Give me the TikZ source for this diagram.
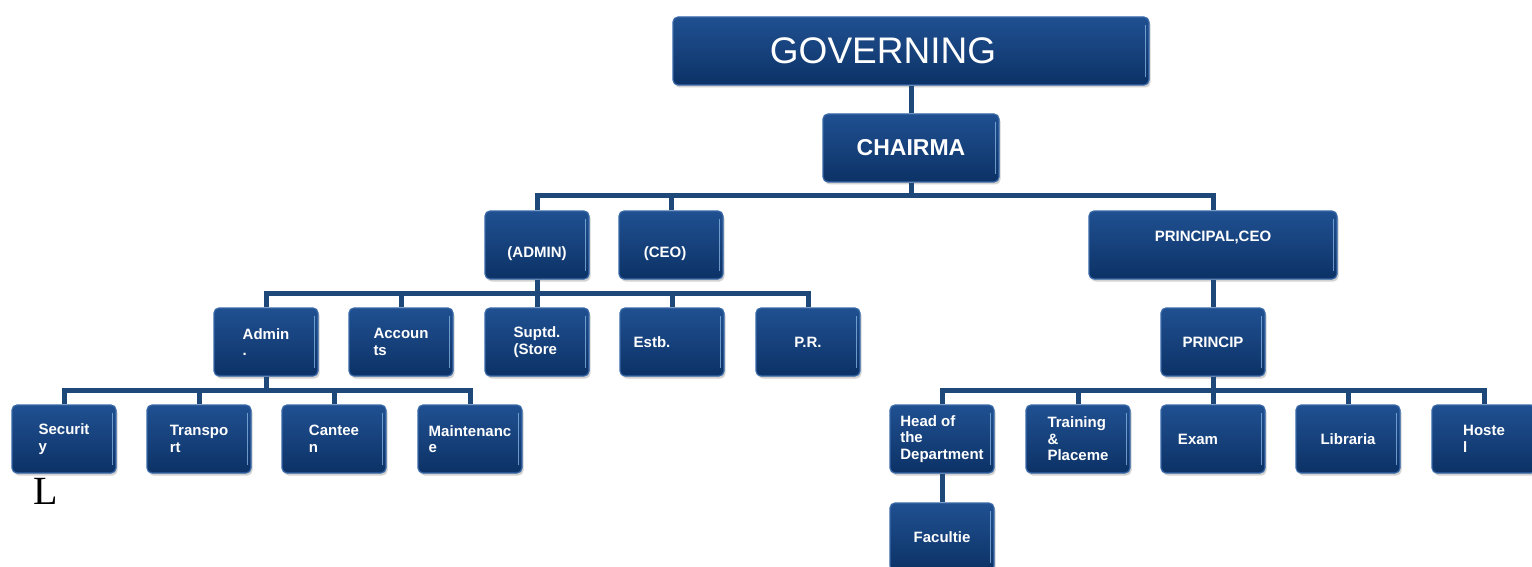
\documentclass[tikz,border=0pt]{standalone}
\usepackage{fontspec}
\setmainfont{Liberation Sans}
\newfontfamily\timesfont{Liberation Serif}
\usetikzlibrary{shadows}

\definecolor{boxtop}{RGB}{32,80,145}
\definecolor{boxbot}{RGB}{12,50,102}
\definecolor{boxrim}{RGB}{56,104,168}
\definecolor{boxlite}{RGB}{140,185,230}
\definecolor{linkcol}{RGB}{30,72,122}

\tikzset{
	orgbox/.style={rectangle,rounded corners=5pt,draw=boxrim,line width=1.2pt,
		top color=boxtop,bottom color=boxbot,text=white,
		minimum width=104pt,minimum height=68pt,align=left,inner sep=2pt,
		font=\fontsize{15}{16.5}\selectfont\bfseries,
		drop shadow={shadow xshift=1.5pt,shadow yshift=-2.5pt,opacity=0.35},
		path picture={\draw[boxlite,line width=1pt,opacity=0.75]
			([xshift=-3.5pt,yshift=-8pt]path picture bounding box.north east)
			--([xshift=-3.5pt,yshift=8pt]path picture bounding box.south east);}},
	link/.style={draw=linkcol,line width=5pt}
}

\begin{document}
\begin{tikzpicture}[x=1pt,y=-1pt]
			\fill[white] (0,0) rectangle (1532,567);
			\useasboundingbox (0,0) rectangle (1532,567);
			% top of the chart
			\node[orgbox,minimum width=476pt,font=\fontsize{37}{40}\selectfont](gov) at (911,51)
			{GOVERNING\hspace*{56pt}};
			\node[orgbox,minimum width=176pt,font=\fontsize{23}{26}\selectfont\bfseries](chair) at (911,148)
			{CHAIRMA};
			\node[orgbox,align=center](admin) at (537,245) {\strut\\(ADMIN)};
			\node[orgbox,align=center](ceo) at (671,245) {\strut\\(CEO)\hspace*{12pt}};
			\node[orgbox,minimum width=248pt,align=center](prin) at (1213,245)
			{PRINCIPAL,CEO\\~};
			% admin side
			\node[orgbox](adm) at (266,342) {Admin\\.};
			\node[orgbox](acc) at (401,342) {Accoun\\ts};
			\node[orgbox](supt) at (537,342) {Suptd.\\(Store};
			\node[orgbox](estb) at (672,342) {Estb.\hspace*{40pt}};
			\node[orgbox](pr) at (808,342) {P.R.};
			\node[orgbox](sec) at (64,439) {Securit\\y};
			\node[orgbox](trans) at (199,439) {Transpo\\rt};
			\node[orgbox](cant) at (334,439) {Cantee\\n};
			\node[orgbox](maint) at (470,439) {Maintenanc\\e};
			% principal side
			\node[orgbox](princ) at (1213,342) {PRINCIP};
			\node[orgbox](hod) at (942,439) {Head of\\the\\Department};
			\node[orgbox](train) at (1078,439) {Training\\\&\\Placeme};
			\node[orgbox](exam) at (1213,439) {Exam\hspace*{30pt}};
			\node[orgbox](lib) at (1348,439) {Libraria};
			\node[orgbox](host) at (1484,439) {Hoste\\l};
			\node[orgbox](fac) at (942,537) {Facultie};
			\node[font=\timesfont\fontsize{40}{40}\selectfont,text=black](stray) at (46,491) {L};
			% connectors
			\draw[link] (gov)--(chair);
			\draw[link] (chair.south)--++(0,13)-|(admin.north);
			\draw[link] (chair.south)--++(0,13)-|(ceo.north);
			\draw[link] (chair.south)--++(0,13)-|(prin.north);
			\draw[link] (admin.south)--++(0,14)-|(adm.north);
			\draw[link] (admin.south)--++(0,14)-|(acc.north);
			\draw[link] (admin.south)--(supt.north);
			\draw[link] (admin.south)--++(0,14)-|(estb.north);
			\draw[link] (admin.south)--++(0,14)-|(pr.north);
			\draw[link] (adm.south)--++(0,14)-|(sec.north);
			\draw[link] (adm.south)--++(0,14)-|(trans.north);
			\draw[link] (adm.south)--++(0,14)-|(cant.north);
			\draw[link] (adm.south)--++(0,14)-|(maint.north);
			\draw[link] (prin)--(princ);
			\draw[link] (princ.south)--++(0,14)-|(hod.north);
			\draw[link] (princ.south)--++(0,14)-|(train.north);
			\draw[link] (princ.south)--(exam.north);
			\draw[link] (princ.south)--++(0,14)-|(lib.north);
			\draw[link] (princ.south)--++(0,14)-|(host.north);
			\draw[link] (hod)--(fac);
		\end{tikzpicture}
\end{document}
